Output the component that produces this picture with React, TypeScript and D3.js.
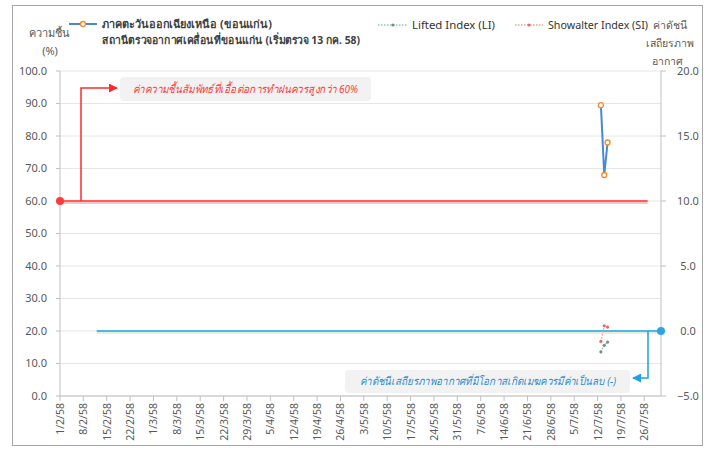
import React from 'react';
import * as d3 from 'd3';

// ข้อมูลจากกราฟ (ปี 58 = 2015)
const tickLabels = [
  '1/2/58', '8/2/58', '15/2/58', '22/2/58', '1/3/58', '8/3/58', '15/3/58', '22/3/58', '29/3/58',
  '5/4/58', '12/4/58', '19/4/58', '26/4/58', '3/5/58', '10/5/58', '17/5/58', '24/5/58', '31/5/58',
  '7/6/58', '14/6/58', '21/6/58', '28/6/58', '5/7/58', '12/7/58', '19/7/58', '26/7/58',
];
const obsDates = ['13/7/58', '14/7/58', '15/7/58'];
const rhValues = [89.5, 68.0, 78.0];
const liValues = [-1.6, -1.1, -0.85];
const siValues = [-0.8, 0.4, 0.3];

const rhThreshold = 60;
const stabThreshold = 0;
const rhLineDates = ['1/2/58', '27/7/58'];
const stabLineDates = ['12/2/58', '31/7/58'];
const axisDates = ['1/2/58', '31/7/58'];

const leftTicks = [0, 10, 20, 30, 40, 50, 60, 70, 80, 90, 100];
const rightTicks = [-5, 0, 5, 10, 15, 20];

const parseDate = (s: string) => {
  const [d, m] = s.split('/').map(Number);
  return new Date(2015, m - 1, d);
};

const W = 712;
const H = 451;
const L = 60;
const R = 661;
const T = 71;
const B = 396;

const FONT = "Tahoma, 'Noto Sans', 'DejaVu Sans', sans-serif";
const GRAY = '#595959';

export default function App() {
  const x = d3.scaleTime().domain(axisDates.map(parseDate)).range([L, R]);
  const yL = d3.scaleLinear().domain([0, 100]).range([B, T]);
  const yR = d3.scaleLinear().domain([-5, 20]).range([B, T]);
  const fmt = d3.format('.1f');

  const rhPts = obsDates.map((d, i) => [x(parseDate(d)), yL(rhValues[i])] as [number, number]);
  const liPts = obsDates.map((d, i) => [x(parseDate(d)), yR(liValues[i])] as [number, number]);
  const siPts = obsDates.map((d, i) => [x(parseDate(d)), yR(siValues[i])] as [number, number]);
  const line = d3.line();

  const redY = yL(rhThreshold);
  const redX0 = x(parseDate(rhLineDates[0]));
  const redX1 = x(parseDate(rhLineDates[1]));
  const blueY = yR(stabThreshold);
  const blueX0 = x(parseDate(stabLineDates[0]));
  const blueX1 = x(parseDate(stabLineDates[1]));

  return (
    <svg width={W} height={H} style={{ position: 'absolute', left: 0, top: 0, fontFamily: FONT }}>
      <defs>
        <marker id="arrR" viewBox="0 0 10 10" refX="9" refY="5" markerWidth="6" markerHeight="6" orient="auto">
          <path d="M0,0 L10,5 L0,10 z" fill="#ff2b2b" />
        </marker>
        <marker id="arrB" viewBox="0 0 10 10" refX="9" refY="5" markerWidth="6" markerHeight="6" orient="auto">
          <path d="M0,0 L10,5 L0,10 z" fill="#1fa0e0" />
        </marker>
      </defs>
      <rect x={0} y={0} width={W} height={H} fill="#fff" />
      <rect x={12.5} y={5.5} width={690} height={440} fill="#fff" stroke="#a6a6a6" strokeWidth={1} />

      {/* เส้นกริด */}
      {leftTicks.map((t) => (
        <line key={'g' + t} x1={L} x2={R} y1={yL(t)} y2={yL(t)} stroke="#e6e6e6" strokeWidth={1} />
      ))}

      {/* แกนซ้าย */}
      <line x1={L} x2={L} y1={T} y2={B} stroke="#bfbfbf" />
      {leftTicks.map((t) => (
        <g key={'l' + t}>
          <line x1={L - 4} x2={L} y1={yL(t)} y2={yL(t)} stroke="#bfbfbf" />
          <text x={L - 13} y={yL(t)} dy="0.35em" textAnchor="end" fontSize={11} fill={GRAY}>{fmt(t)}</text>
        </g>
      ))}

      {/* แกนขวา */}
      <line x1={R} x2={R} y1={T} y2={B} stroke="#bfbfbf" />
      {rightTicks.map((t) => (
        <g key={'r' + t}>
          <line x1={R} x2={R + 5} y1={yR(t)} y2={yR(t)} stroke="#bfbfbf" />
          <text x={R + 27} y={yR(t)} dy="0.35em" textAnchor="middle" fontSize={11} fill={GRAY}>{fmt(t)}</text>
        </g>
      ))}

      {/* แกน X */}
      <line x1={L} x2={R} y1={B} y2={B} stroke="#bfbfbf" />
      {tickLabels.map((lab) => {
        const px = x(parseDate(lab));
        return (
          <g key={lab}>
            <line x1={px} x2={px} y1={B} y2={B + 5} stroke="#bfbfbf" />
            <text transform={`translate(${px + 4},${B + 7}) rotate(-90)`} textAnchor="end" fontSize={10.5} fill={GRAY}>{lab}</text>
          </g>
        );
      })}

      {/* เส้นเกณฑ์ความชื้น 60% */}
      <line x1={redX0} x2={redX1} y1={redY + 2} y2={redY + 2} stroke="#f7c6c6" strokeWidth={2} />
      <line x1={redX0} x2={redX1} y1={redY} y2={redY} stroke="#ff5c5c" strokeWidth={2} />
      <circle cx={redX0} cy={redY} r={4} fill="#ff3b3b" />
      <path d={`M81,${redY} V88 H117`} fill="none" stroke="#ff2b2b" strokeWidth={1.5} markerEnd="url(#arrR)" />
      <rect x={120} y={77} width={251} height={24} rx={4} fill="#f2f2f2" />
      <text x={133} y={89} dy="0.35em" fontSize={11} fontStyle="italic" fill="#ff3b3b" textLength={225} lengthAdjust="spacingAndGlyphs">
        ค่าความชื้นสัมพัทธ์ที่เอื้อต่อการทำฝนควรสูงกว่า  60%
      </text>

      {/* เส้นเกณฑ์ดัชนีเสถียรภาพ 0 */}
      <line x1={blueX0} x2={blueX1} y1={blueY + 2} y2={blueY + 2} stroke="#e8eedd" strokeWidth={2} />
      <line x1={blueX0} x2={blueX1} y1={blueY} y2={blueY} stroke="#4fb6e8" strokeWidth={2} />
      <circle cx={blueX1} cy={blueY} r={4} fill="#2ea3e3" />
      <path d={`M648,${blueY} V378 H633`} fill="none" stroke="#1fa0e0" strokeWidth={1.5} markerEnd="url(#arrB)" />
      <rect x={345} y={370} width={285} height={23} rx={4} fill="#f2f2f2" />
      <text x={360} y={381} dy="0.35em" fontSize={11} fontStyle="italic" fill="#2e8fce" textLength={256} lengthAdjust="spacingAndGlyphs">
        ค่าดัชนีเสถียรภาพอากาศที่มีโอกาสเกิดเมฆควรมีค่าเป็นลบ  (-)
      </text>

      {/* ซีรีส์ */}
      <path d={line(rhPts) || ''} fill="none" stroke="#4a88d6" strokeWidth={2} />
      {rhPts.map((p, i) => (
        <circle key={'rh' + i} cx={p[0]} cy={p[1]} r={2.5} fill="#fff" stroke="#f28a2e" strokeWidth={1.3} />
      ))}
      <path d={line(liPts) || ''} fill="none" stroke="#8cc6bd" strokeWidth={1.3} strokeDasharray="1.5,1.5" />
      {liPts.map((p, i) => (
        <circle key={'li' + i} cx={p[0]} cy={p[1]} r={1.6} fill="#6f8f88" />
      ))}
      <path d={line(siPts) || ''} fill="none" stroke="#f29a9a" strokeWidth={1.3} strokeDasharray="1.5,1.5" />
      {siPts.map((p, i) => (
        <circle key={'si' + i} cx={p[0]} cy={p[1]} r={1.6} fill="#e46b6b" />
      ))}

      {/* ชื่อแกน */}
      <text x={49} y={33} dy="0.35em" textAnchor="middle" fontSize={11} fill={GRAY}>ความชื้น</text>
      <text x={50} y={51} dy="0.35em" textAnchor="middle" fontSize={11} fill={GRAY}>(%)</text>
      <text x={670} y={25} dy="0.35em" textAnchor="middle" fontSize={10.5} fill={GRAY}>ค่าดัชนี</text>
      <text x={670} y={43} dy="0.35em" textAnchor="middle" fontSize={10.5} fill={GRAY}>เสถียรภาพ</text>
      <text x={667} y={61} dy="0.35em" textAnchor="middle" fontSize={10.5} fill={GRAY}>อากาศ</text>

      {/* คำอธิบาย */}
      <line x1={69} x2={97} y1={24} y2={24} stroke="#4a88d6" strokeWidth={2} />
      <circle cx={83} cy={24} r={2.5} fill="#fff" stroke="#f28a2e" strokeWidth={1.3} />
      <text x={102} y={24} dy="0.35em" fontSize={11} fontWeight="bold" fill="#404040" textLength={170} lengthAdjust="spacingAndGlyphs">ภาคตะวันออกเฉียงเหนือ  (ขอนแก่น)</text>
      <text x={102} y={40} dy="0.35em" fontSize={11} fontWeight="bold" fill="#404040" textLength={258} lengthAdjust="spacingAndGlyphs">สถานีตรวจอากาศเคลื่อนที่ขอนแก่น (เริ่มตรวจ 13 กค. 58)</text>

      <line x1={378} x2={408} y1={25} y2={25} stroke="#8cc6bd" strokeWidth={1.3} strokeDasharray="1.5,1.5" />
      <circle cx={393} cy={25} r={1.6} fill="#6f8f88" />
      <text x={412} y={25} dy="0.35em" fontSize={11} fill="#333" textLength={83} lengthAdjust="spacingAndGlyphs">Lifted Index (LI)</text>
      <line x1={515} x2={543} y1={25} y2={25} stroke="#f29a9a" strokeWidth={1.3} strokeDasharray="1.5,1.5" />
      <circle cx={529} cy={25} r={1.6} fill="#e46b6b" />
      <text x={548} y={25} dy="0.35em" fontSize={11} fill="#333" textLength={100} lengthAdjust="spacingAndGlyphs">Showalter Index (SI)</text>
    </svg>
  );
}
